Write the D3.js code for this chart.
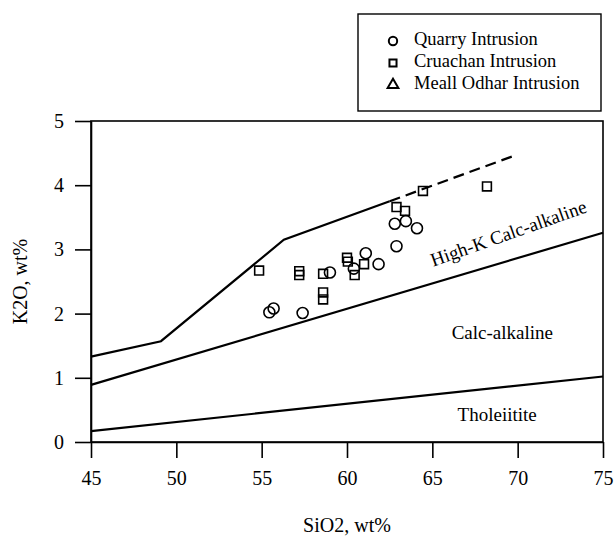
<!DOCTYPE html>
<html>
<head>
<meta charset="utf-8">
<script src="https://cdn.jsdelivr.net/npm/d3@7"></script>
<style>
  html, body { margin: 0; padding: 0; background: #fff; }
  svg text { font-family: "Liberation Serif", "Times New Roman", serif; fill: #000; }
</style>
</head>
<body>
<svg id="chart" width="614" height="538"></svg>
<script>
// ---- data ----
const xTicks = [45, 50, 55, 60, 65, 70, 75];
const yTicks = [0, 1, 2, 3, 4, 5];

const quarry = [
  [55.45, 2.02], [55.7, 2.08], [57.4, 2.01], [59.0, 2.64], [60.4, 2.70],
  [61.1, 2.94], [61.85, 2.77], [62.8, 3.40], [63.45, 3.44], [64.1, 3.33], [62.9, 3.05]
];
const cruachan = [
  [54.85, 2.67], [57.2, 2.66], [57.2, 2.60], [58.6, 2.62], [58.6, 2.33], [58.6, 2.22],
  [60.0, 2.87], [60.05, 2.81], [61.0, 2.77], [60.45, 2.60], [62.9, 3.66], [63.4, 3.60],
  [64.45, 3.91], [68.2, 3.98]
];
const meallOdhar = [];

const tholeiiteLine = [[45, 0.17], [75, 1.02]];
const calcLine = [[45, 0.89], [75, 3.26]];
const highKLine = [[45, 1.33], [49.1, 1.57], [56.3, 3.15], [62.5, 3.75]];
const highKDashed = [[62.5, 3.75], [69.7, 4.45]];

const fieldLabels = [
  { text: "High-K Calc-alkaline", x: 69.5, y: 3.22, angle: -19.5 },
  { text: "Calc-alkaline", x: 69.1, y: 1.67, angle: 0 },
  { text: "Tholeiitite", x: 68.8, y: 0.39, angle: 0 }
];

const legendItems = [
  { label: "Quarry Intrusion", shape: "circle" },
  { label: "Cruachan Intrusion", shape: "square" },
  { label: "Meall Odhar Intrusion", shape: "triangle" }
];

// ---- layout ----
const FONT = '"Liberation Serif", "Times New Roman", serif';
const svg = d3.select("#chart");
const x = d3.scaleLinear().domain([45, 75]).range([91, 603]);
const y = d3.scaleLinear().domain([0, 5]).range([442, 121]);

// frame
svg.append("rect")
  .attr("x", x(45)).attr("y", y(5))
  .attr("width", x(75) - x(45)).attr("height", y(0) - y(5))
  .attr("fill", "none").attr("stroke", "#000").attr("stroke-width", 1.6);

// axes
const xAxis = svg.append("g").attr("transform", `translate(0,${y(0)})`)
  .call(d3.axisBottom(x).tickValues(xTicks).tickFormat(d3.format("d"))
    .tickSize(16).tickSizeOuter(0).tickPadding(13));
const yAxis = svg.append("g").attr("transform", `translate(${x(45)},0)`)
  .call(d3.axisLeft(y).tickValues(yTicks).tickFormat(d3.format("d"))
    .tickSize(16).tickSizeOuter(0).tickPadding(11));
[xAxis, yAxis].forEach(g => {
  g.attr("font-family", FONT);
  g.select(".domain").attr("stroke", "#000").attr("stroke-width", 1.6);
  g.selectAll(".tick line").attr("stroke", "#000").attr("stroke-width", 1.6);
  g.selectAll(".tick text").attr("font-size", 20)
    .attr("font-family", FONT).attr("fill", "#000");
});

// axis titles
svg.append("text").attr("x", x(60)).attr("y", 532).attr("text-anchor", "middle")
  .attr("font-family", FONT).attr("font-size", 20).text("SiO2, wt%");
svg.append("text").attr("transform", `translate(27,${(y(0) + y(5)) / 2}) rotate(-90)`)
  .attr("text-anchor", "middle").attr("font-family", FONT).attr("font-size", 20).text("K2O, wt%");

// boundary lines
const line = d3.line().x(d => x(d[0])).y(d => y(d[1]));
[tholeiiteLine, calcLine, highKLine].forEach(l => {
  svg.append("path").attr("d", line(l)).attr("fill", "none")
    .attr("stroke", "#000").attr("stroke-width", 2.2);
});
svg.append("path").attr("d", line(highKDashed)).attr("fill", "none")
  .attr("stroke", "#000").attr("stroke-width", 2.2).attr("stroke-dasharray", "11,6");

// field labels
fieldLabels.forEach(l => {
  svg.append("text")
    .attr("transform", `translate(${x(l.x)},${y(l.y)}) rotate(${l.angle})`)
    .attr("text-anchor", "middle").attr("dominant-baseline", "middle")
    .attr("font-family", FONT).attr("font-size", 19).text(l.text);
});

// symbols
const sym = {
  circle: d3.symbol().type(d3.symbolCircle).size(95),
  square: d3.symbol().type(d3.symbolSquare).size(78),
  triangle: d3.symbol().type(d3.symbolTriangle).size(70)
};
function drawPoints(data, shape) {
  svg.append("g").selectAll("path").data(data).join("path")
    .attr("d", sym[shape]())
    .attr("transform", d => `translate(${x(d[0])},${y(d[1])})`)
    .attr("fill", "none").attr("stroke", "#000").attr("stroke-width", 1.6);
}
drawPoints(cruachan, "square");
drawPoints(quarry, "circle");
drawPoints(meallOdhar, "triangle");

// legend
const lg = svg.append("g");
lg.append("rect").attr("x", 358).attr("y", 14).attr("width", 243).attr("height", 97)
  .attr("fill", "#fff").attr("stroke", "#000").attr("stroke-width", 1.4);
const legendSym = {
  circle: d3.symbol().type(d3.symbolCircle).size(55),
  square: d3.symbol().type(d3.symbolSquare).size(50),
  triangle: d3.symbol().type(d3.symbolTriangle).size(50)
};
legendItems.forEach((it, i) => {
  const cy = 41 + i * 22;
  lg.append("path").attr("d", legendSym[it.shape]())
    .attr("transform", `translate(393,${cy})`)
    .attr("fill", "none").attr("stroke", "#000").attr("stroke-width", 2);
  lg.append("text").attr("x", 414).attr("y", cy).attr("dominant-baseline", "middle")
    .attr("font-family", FONT).attr("font-size", 18.5).text(it.label);
});
</script>
</body>
</html>
